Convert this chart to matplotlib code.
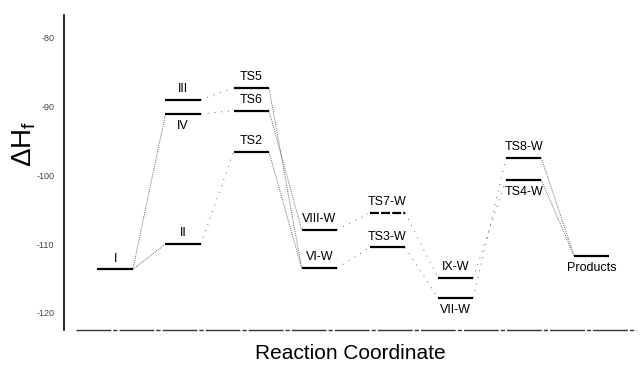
import matplotlib
matplotlib.use("Agg")
import matplotlib.pyplot as plt

plt.rcParams['font.family'] = ['Liberation Sans', 'DejaVu Sans']
plt.rcParams['mathtext.fontset'] = 'custom'
plt.rcParams['mathtext.rm'] = 'Liberation Sans'

# Energy levels: name, stage (reaction coordinate position), enthalpy
names = ["I", "II", "III", "IV", "TS5", "TS6", "TS2", "VIII-W", "VI-W",
         "TS7-W", "TS3-W", "IX-W", "VII-W", "TS8-W", "TS4-W", "Products"]
stages = [0, 1, 1, 1, 2, 2, 2, 3, 3, 4, 4, 5, 5, 6, 6, 7]
energies = [-113.7, -110.0, -89.0, -91.1, -87.3, -90.6, -96.6, -107.9, -113.5,
            -105.5, -110.5, -114.9, -117.8, -97.5, -100.7, -111.7]
label_below = ["IV", "VII-W", "TS4-W", "Products"]
dashed_levels = ["TS7-W"]

# Connections: (from, to, dense?)
connections = [("I", "IV", True), ("I", "II", True),
               ("III", "TS5", False), ("IV", "TS6", False), ("II", "TS2", False),
               ("TS5", "VI-W", True), ("TS6", "VIII-W", True), ("TS2", "VI-W", True),
               ("VIII-W", "TS7-W", False), ("VI-W", "TS3-W", False),
               ("TS7-W", "IX-W", False), ("TS3-W", "VII-W", False),
               ("IX-W", "TS4-W", False), ("VII-W", "TS8-W", False),
               ("TS8-W", "Products", True), ("TS4-W", "Products", True)]

yticks = [-80, -90, -100, -110, -120]

W, H = 640, 369
fig = plt.figure(figsize=(W / 100, H / 100), dpi=100)
ax = fig.add_axes([64 / W, (H - 330) / H, (636 - 64) / W, (330 - 15) / H])

half = 0.26
pos = {n: (s, e) for n, s, e in zip(names, stages, energies)}

for n_from, n_to, dense in connections:
    s1, e1 = pos[n_from]
    s2, e2 = pos[n_to]
    ax.plot([s1 + half, s2 - half], [e1, e2], color='#666666',
            lw=0.7,
            linestyle=(0, (1, 1.2)) if dense else (0, (1, 6)))

for n, s, e in zip(names, stages, energies):
    ls = (0, (4, 1)) if n in dashed_levels else '-'
    ax.plot([s - half, s + half], [e, e], color='black', lw=1.6, linestyle=ls,
            solid_capstyle='butt')
    if n in label_below:
        ax.text(s, e - 0.9, n, ha='center', va='top', fontsize=9)
    else:
        ax.text(s, e + 0.7, n, ha='center', va='bottom', fontsize=9)

ax.set_xlim(-0.75, 7.65)
ax.set_ylim(-122.5, -76.7)
ax.set_yticks(yticks)
ax.set_yticklabels([str(t) for t in yticks], fontsize=6.5, color='#444444')
ax.tick_params(axis='y', length=0, pad=7)
ax.set_xticks([])

for sp in ['top', 'right', 'bottom']:
    ax.spines[sp].set_visible(False)
ax.spines['left'].set_linewidth(1.2)

ax.plot([(76 - 64) / 572, 1.0], [0, 0], transform=ax.transAxes, color='#333333',
        lw=1.0, linestyle=(0, (25, 1.5, 3, 1.5)), clip_on=False)

ax.set_ylabel(r'$\Delta\mathrm{H_f}$', fontsize=20)
ax.yaxis.set_label_coords((38 - 64) / 572, (330 - 144) / 315)
ax.set_xlabel('Reaction Coordinate', fontsize=15, labelpad=10)

fig.savefig('out.png', dpi=100)
